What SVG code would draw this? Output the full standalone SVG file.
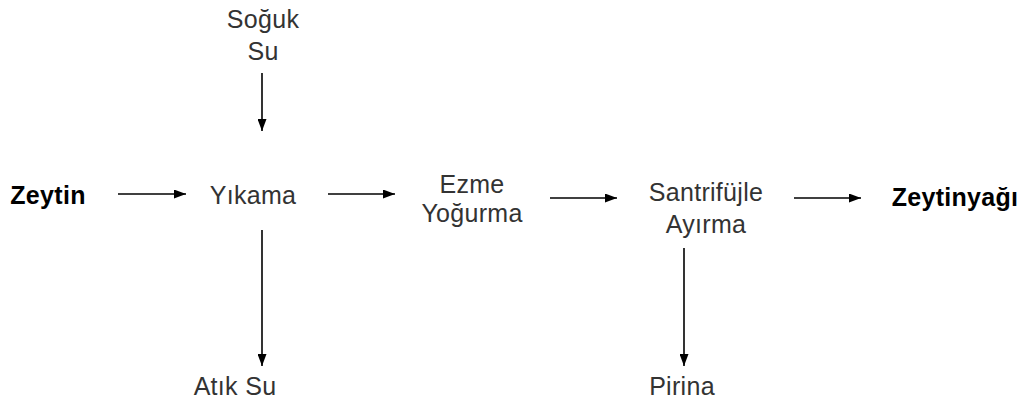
<svg xmlns="http://www.w3.org/2000/svg" width="1026" height="409" viewBox="0 0 1026 409">
<defs>
<marker id="ah" viewBox="0 0 12 9" refX="12" refY="4.5" markerWidth="12" markerHeight="9" markerUnits="userSpaceOnUse" orient="auto">
<path d="M0,0 L12,4.5 L0,9 z" fill="#000"/>
</marker>
<style>
.t{font-family:"Liberation Sans",Arial,sans-serif;font-size:25px;fill:#333;text-anchor:middle;letter-spacing:0.3px}
.b{font-family:"Liberation Sans",Arial,sans-serif;font-size:25px;font-weight:bold;fill:#000;text-anchor:middle;letter-spacing:0.3px}
.c{stroke:#000;stroke-width:1.6;fill:none;marker-end:url(#ah)}
</style>
</defs>
<rect width="1026" height="409" fill="#fff"/>
<g id="zeytin"><text class="b" x="48" y="204">Zeytin</text></g>
<g id="soguk-su"><text class="t" x="263" y="28">Soğuk</text><text class="t" x="263" y="60">Su</text></g>
<g id="yikama"><text class="t" x="253" y="204">Yıkama</text></g>
<g id="atik-su"><text class="t" x="235" y="395">Atık Su</text></g>
<g id="ezme"><text class="t" x="472" y="193">Ezme</text><text class="t" x="472" y="222">Yoğurma</text></g>
<g id="santrifujle"><text class="t" x="706" y="201">Santrifüjle</text><text class="t" x="706" y="233">Ayırma</text></g>
<g id="pirina"><text class="t" x="682" y="395">Pirina</text></g>
<g id="zeytinyagi"><text class="b" x="955" y="206">Zeytinyağı</text></g>
<g id="connectors">
<line class="c" x1="118" y1="194" x2="186" y2="194"/>
<line class="c" x1="262" y1="73" x2="262" y2="131"/>
<line class="c" x1="262" y1="230" x2="262" y2="366"/>
<line class="c" x1="328" y1="194" x2="395" y2="194"/>
<line class="c" x1="550" y1="198" x2="617" y2="198"/>
<line class="c" x1="684" y1="248" x2="684" y2="366"/>
<line class="c" x1="794" y1="198" x2="861" y2="198"/>
</g>
</svg>
